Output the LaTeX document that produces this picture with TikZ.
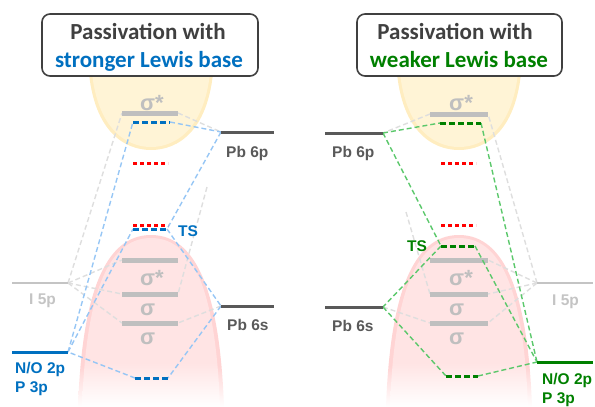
\documentclass[tikz,border=0pt]{standalone}
\usepackage{fontspec}
\newfontfamily\titlefont{Carlito}
\newfontfamily\labfont{Liberation Sans}
\definecolor{dgray}{HTML}{595959}
\definecolor{boxgray}{HTML}{404040}
\definecolor{bargray}{HTML}{BFBFBF}
\definecolor{fivepgray}{HTML}{C4C4C4}
\definecolor{conngray}{HTML}{DEDEDE}
\definecolor{bluetxt}{HTML}{0070C0}
\definecolor{lblue}{HTML}{96C6F5}
\definecolor{greentxt}{HTML}{008000}
\definecolor{lgreen}{HTML}{5BC86B}
\definecolor{yelin}{HTML}{FFF4D6}
\definecolor{yeledge}{HTML}{FFEDC0}
\definecolor{pinkin}{HTML}{FFE4E4}
\definecolor{pinkedge}{HTML}{FFD4D4}
% vertical fades: 25bp = bottom of the path, 75bp = top
\pgfdeclareverticalshading{pinkedgefade}{100bp}{color(0bp)=(white); color(25bp)=(white); color(37bp)=(pinkedge); color(100bp)=(pinkedge)}
\pgfdeclareverticalshading{pinkinfade}{100bp}{color(0bp)=(white); color(25bp)=(white); color(38bp)=(pinkin); color(100bp)=(pinkin)}
\tikzset{
  titlebox/.style={draw=boxgray, line width=1.6pt, rounded corners=8pt, fill=white},
  ttl/.style={font=\titlefont\bfseries\fontsize{23}{27}\selectfont, inner sep=0pt, anchor=base},
  lab/.style={font=\labfont\bfseries\fontsize{15.5}{18}\selectfont, inner sep=0pt, anchor=base west},
  sig/.style={font=\labfont\bfseries\fontsize{22}{26}\selectfont, text=bargray, inner sep=0pt, anchor=base west},
  pblevel/.style={draw=dgray, line width=3pt},
  fivep/.style={draw=fivepgray, line width=2pt},
  bar/.style={draw=bargray, line width=5pt},
  reddots/.style={draw=red, line width=3pt, dash pattern=on 4pt off 3pt},
  bluedots/.style={draw=bluetxt, line width=3pt, dash pattern=on 6pt off 3pt},
  greendots/.style={draw=greentxt, line width=3pt, dash pattern=on 6pt off 3pt},
  gconn/.style={draw=conngray, line width=1.4pt, dash pattern=on 5pt off 3pt},
  bconn/.style={draw=lblue, line width=1.4pt, dash pattern=on 5pt off 3pt},
  grconn/.style={draw=lgreen, line width=1.4pt, dash pattern=on 5pt off 3pt},
}
\begin{document}
\begin{tikzpicture}[x=1pt,y=-1pt]
\useasboundingbox (0,0) rectangle (595,407);

% ---------- glows ----------
\foreach \dx in {0,308}{
  \begin{scope}[xshift=\dx pt]
    \fill[yeledge] (88,60) .. controls (91,132) and (125,150) .. (151,150)
                   .. controls (177,150) and (211,132) .. (214,60) -- cycle;
    \fill[yelin] (91,60) .. controls (94,128) and (126,147) .. (151,147)
                 .. controls (176,147) and (208,128) .. (211,60) -- cycle;
    \shade[shading=pinkedgefade] (78,407) .. controls (82,296) and (104,235) .. (151,235)
                   .. controls (198,235) and (220,296) .. (224,407) -- cycle;
    \shade[shading=pinkinfade] (82,407) .. controls (86,298) and (106,238) .. (151,238)
                   .. controls (196,238) and (216,298) .. (220,407) -- cycle;
  \end{scope}
}

% ---------- title boxes ----------
\draw[titlebox] (42,14) rectangle (258,76);
\node[ttl, text=boxgray] (tl1) at (148,39) {Passivation with};
\node[ttl, text=bluetxt] (tl2) at (149,67) {stronger Lewis base};
\draw[titlebox] (357,14) rectangle (562,76);
\node[ttl, text=boxgray] (tr1) at (455,39) {Passivation with};
\node[ttl, text=greentxt] (tr2) at (459,67) {weaker Lewis base};

% ---------- level end points ----------
% left panel
\coordinate (LbtW) at (122,113); \coordinate (LbtE) at (178,113);
\coordinate (Lb1W) at (122,260); \coordinate (Lb1E) at (178,260);
\coordinate (Lb2W) at (122,294); \coordinate (Lb2E) at (178,294);
\coordinate (Lb3W) at (122,323); \coordinate (Lb3E) at (178,323);
\coordinate (LtopW) at (133,122); \coordinate (LtopE) at (170,122);
\coordinate (LtsW) at (133,229);  \coordinate (LtsE) at (167,229);
\coordinate (LbotW) at (135,378); \coordinate (LbotE) at (168,378);
\coordinate (Lpw) at (221,132); \coordinate (Lpe) at (274,132);
\coordinate (Lsw) at (221,306); \coordinate (Lse) at (274,306);
\coordinate (LiW) at (12,283);  \coordinate (LiE) at (68,283);
\coordinate (LnW) at (12,352);  \coordinate (LnE) at (68,352);
\coordinate (Lgx) at (207,187);
% right panel
\coordinate (RbtW) at (430,114); \coordinate (RbtE) at (488,114);
\coordinate (Rb1W) at (430,260); \coordinate (Rb1E) at (488,260);
\coordinate (Rb2W) at (430,294); \coordinate (Rb2E) at (488,294);
\coordinate (Rb3W) at (430,323); \coordinate (Rb3E) at (488,323);
\coordinate (RtopW) at (440,123); \coordinate (RtopE) at (481,123);
\coordinate (RtsW) at (441,246);  \coordinate (RtsE) at (475,246);
\coordinate (RbotW) at (446,376); \coordinate (RbotE) at (478,376);
\coordinate (Rpw) at (325,133); \coordinate (Rpe) at (383,133);
\coordinate (Rsw) at (325,307); \coordinate (Rse) at (383,307);
\coordinate (RiW) at (537,283); \coordinate (RiE) at (593,283);
\coordinate (RnW) at (537,362); \coordinate (RnE) at (593,362);
\coordinate (Rgx) at (406,212);

% ---------- grey correlation lines ----------
\draw[gconn] (LiE) -- (LbtW);
\draw[gconn] (LiE) -- (Lb1W);
\draw[gconn] (LiE) -- (Lb2W);
\draw[gconn] (LiE) -- (Lb3W);
\draw[gconn] (LbtE) -- (Lpw);
\draw[gconn] (Lsw) -- (Lb3E);
\draw[gconn] (Lgx) -- (Lb2E);
\draw[gconn] (RiW) -- (RbtE);
\draw[gconn] (RiW) -- (Rb1E);
\draw[gconn] (RiW) -- (Rb2E);
\draw[gconn] (RiW) -- (Rb3E);
\draw[gconn] (RbtW) -- (Rpe);
\draw[gconn] (Rse) -- (Rb3W);
\draw[gconn] (Rgx) -- (Rb2W);

% ---------- grey sigma levels ----------
\foreach \p in {Lbt,Lb1,Lb2,Lb3,Rbt,Rb1,Rb2,Rb3}{
  \draw[bar] (\p W) -- (\p E);
}
\node[sig] (sgl0) at (140,110) {σ*};
\node[sig] (sgl1) at (140,285) {σ*};
\node[sig] (sgl2) at (140,315) {σ};
\node[sig] (sgl3) at (140,344) {σ};
\node[sig] (sgr0) at (449,110) {σ*};
\node[sig] (sgr1) at (449,285) {σ*};
\node[sig] (sgr2) at (449,315) {σ};
\node[sig] (sgr3) at (449,344) {σ};

% ---------- coloured correlation lines ----------
\draw[bconn] (LnE) -- (LtopW);
\draw[bconn] (LnE) -- (LtsW);
\draw[bconn] (LtopE) -- (Lpw);
\draw[bconn] (Lpw) -- (LtsE);
\draw[bconn] (LtsE) -- (Lsw);
\draw[bconn] (Lsw) -- (LbotE);
\draw[bconn] (LbotW) -- (LnE);

\draw[grconn] (Rpe) -- (RtopW);
\draw[grconn] (RtopE) -- (RnW);
\draw[grconn] (Rpe) -- (RtsW);
\draw[grconn] (RtsW) -- (Rse);
\draw[grconn] (RtsE) -- (RnW);
\draw[grconn] (Rse) -- (RbotW);
\draw[grconn] (RbotE) -- (RnW);

% ---------- energy levels ----------
\draw[reddots] (133,163) -- (168,163);
\draw[reddots] (133,225) -- (168,225);
\draw[reddots] (441,163) -- (476,163);
\draw[reddots] (441,225) -- (476,225);
\draw[bluedots] (LtopW) -- (LtopE);
\draw[bluedots] (LtsW) -- (LtsE);
\draw[bluedots] (LbotW) -- (LbotE);
\draw[greendots] (RtopW) -- (RtopE);
\draw[greendots] (RtsW) -- (RtsE);
\draw[greendots] (RbotW) -- (RbotE);

\draw[pblevel] (Lpw) -- (Lpe);
\draw[pblevel] (Lsw) -- (Lse);
\draw[pblevel] (Rpw) -- (Rpe);
\draw[pblevel] (Rsw) -- (Rse);
\draw[fivep] (LiW) -- (LiE);
\draw[fivep] (RiW) -- (RiE);
\draw[draw=bluetxt, line width=3pt] (LnW) -- (LnE);
\draw[draw=greentxt, line width=3pt] (RnW) -- (RnE);

% ---------- labels ----------
\node[lab, text=dgray] (l6p) at (226,157) {Pb 6p};
\node[lab, text=dgray] (l6s) at (227,330) {Pb 6s};
\node[lab, text=bluetxt] (lts) at (178,236) {TS};
\node[lab, text=fivepgray] (l5p) at (29,304) {I 5p};
\node[lab, text=bluetxt] (lno) at (15,373) {N/O 2p};
\node[lab, text=bluetxt] (lp3) at (15,392) {P 3p};

\node[lab, text=dgray] (r6p) at (332,157) {Pb 6p};
\node[lab, text=dgray] (r6s) at (332,331) {Pb 6s};
\node[lab, text=greentxt] (rts) at (407,251) {TS};
\node[lab, text=fivepgray] (r5p) at (552,305) {I 5p};
\node[lab, text=greentxt] (rno) at (542,384) {N/O 2p};
\node[lab, text=greentxt] (rp3) at (542,403) {P 3p};
\end{tikzpicture}
\end{document}
